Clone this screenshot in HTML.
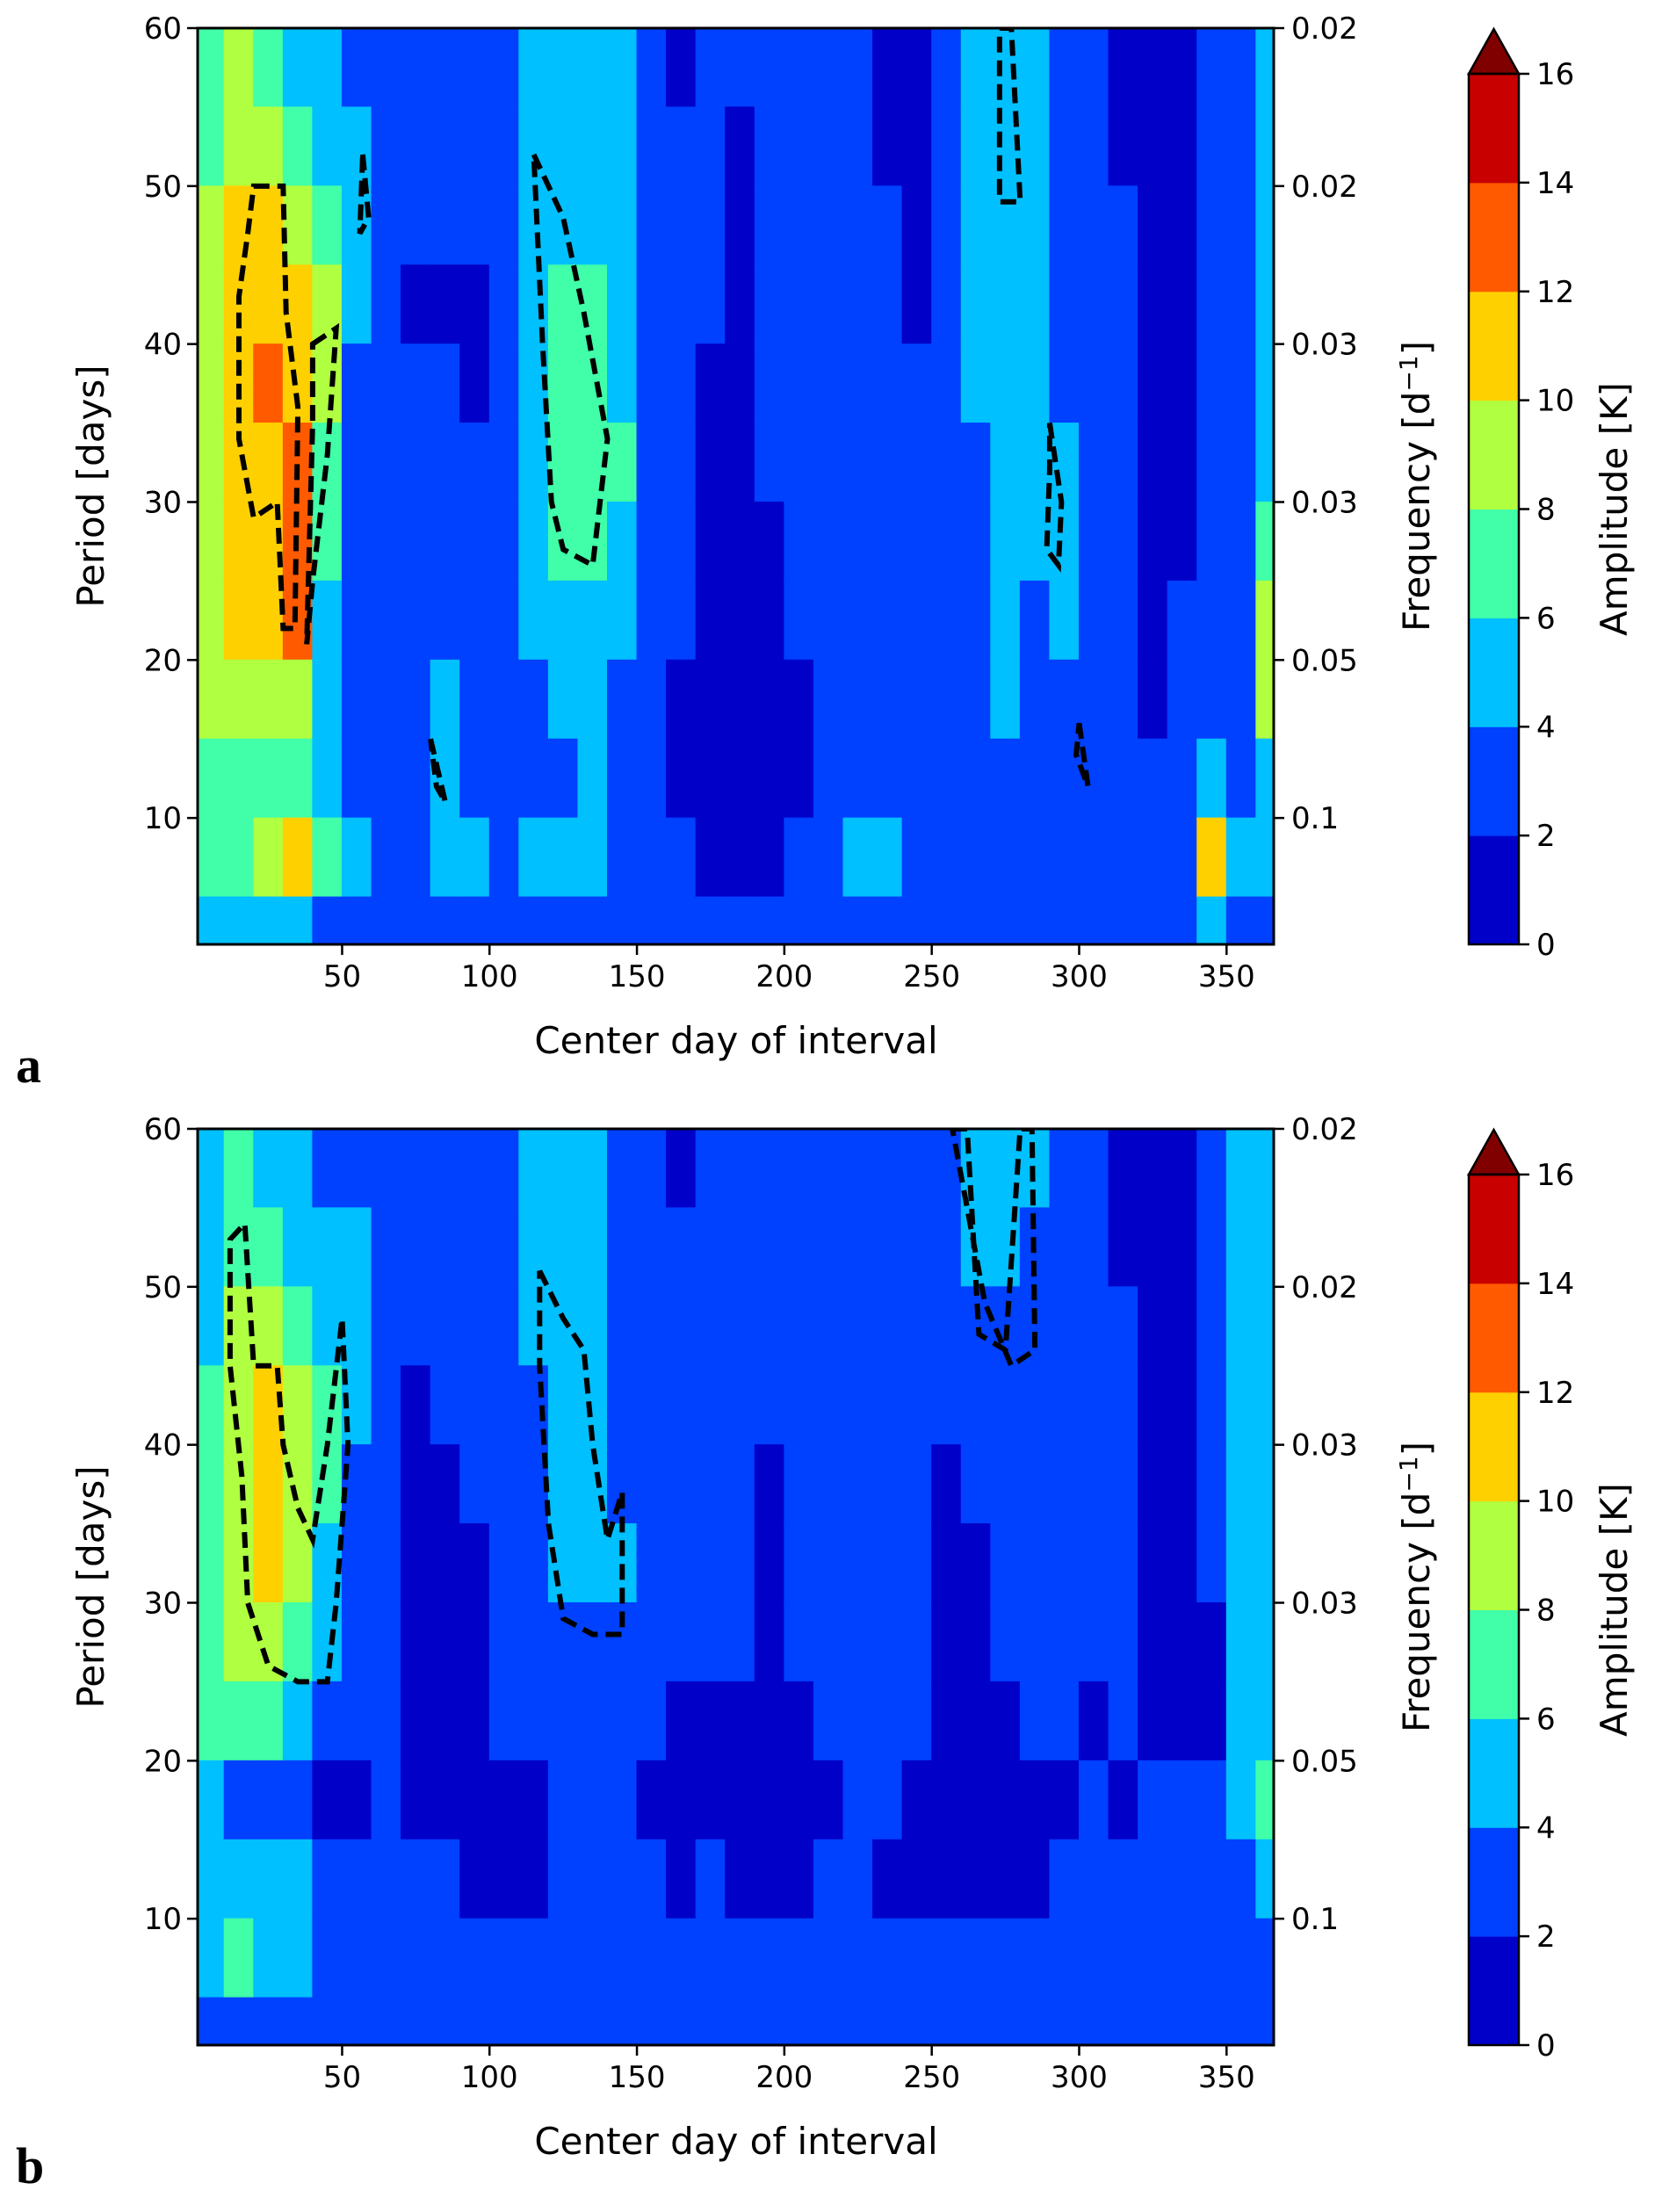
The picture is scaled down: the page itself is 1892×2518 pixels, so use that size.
<!DOCTYPE html>
<html><head><meta charset="utf-8"><style>
body{margin:0;background:#fff}
svg{display:block}
text{font-family:"DejaVu Sans","Liberation Sans",sans-serif;fill:#000}
</style></head><body>
<svg id="fig" width="1892" height="2518" viewBox="0 0 1892 2518" xmlns="http://www.w3.org/2000/svg"></svg>
<script>
const dayCenters=[5,15,25,35,45,55,65,75,85,95,105,115,125,135,145,155,165,175,185,195,205,215,225,235,245,255,265,275,285,295,305,315,325,335,345,355,365];
const periodRows=[[55,60],[50,55],[45,50],[40,45],[35,40],[30,35],[25,30],[20,25],[15,20],[10,15],[5,10],[2,5]];
const ampA=[
[7,7,9,9,9,9,9,9,8,7,7,5],[9,9,11,11,11,11,11,11,9,7,7,5],[7,9,11,11,13,11,11,11,9,7,9,5],[5,7,9,11,11,13,13,13,9,7,11,5],
[5,5,7,9,9,7,7,5,5,5,7,3],[3,5,5,5,3,3,3,3,3,3,5,3],[3,3,3,3,3,3,3,3,3,3,3,3],[3,3,3,1,3,3,3,3,3,3,3,3],
[3,3,3,1,3,3,3,3,5,5,5,3],[3,3,3,1,1,3,3,3,3,3,5,3],[3,3,3,3,3,3,3,3,3,3,3,3],[5,5,5,5,5,5,5,5,3,3,5,3],
[5,5,5,7,7,7,7,5,5,3,5,3],[5,5,5,7,7,7,7,5,5,5,5,3],[5,5,5,5,5,7,5,5,3,3,3,3],[3,3,3,3,3,3,3,3,3,3,3,3],
[1,3,3,3,3,3,3,3,1,1,3,3],[3,3,3,3,1,1,1,1,1,1,1,3],[3,1,1,1,1,1,1,1,1,1,1,3],[3,3,3,3,3,3,1,1,1,1,1,3],
[3,3,3,3,3,3,3,3,1,1,3,3],[3,3,3,3,3,3,3,3,3,3,3,3],[3,3,3,3,3,3,3,3,3,3,5,3],[1,1,3,3,3,3,3,3,3,3,5,3],
[1,1,1,1,3,3,3,3,3,3,3,3],[3,3,3,3,3,3,3,3,3,3,3,3],[5,5,5,5,5,3,3,3,3,3,3,3],[5,5,5,5,5,5,5,5,5,3,3,3],
[5,5,5,5,5,5,5,3,3,3,3,3],[3,3,3,3,3,5,5,5,3,3,3,3],[3,3,3,3,3,3,3,3,3,3,3,3],[1,1,3,3,3,3,3,3,3,3,3,3],
[1,1,1,1,1,1,1,1,1,3,3,3],[1,1,1,1,1,1,1,3,3,3,3,3],[3,3,3,3,3,3,3,3,3,5,11,5],[3,3,3,3,3,3,3,3,3,3,5,3],
[5,5,5,5,5,5,7,9,9,5,5,3]];
const ampB=[
[5,5,5,7,7,7,7,7,5,5,5,3],[7,7,9,9,9,9,9,7,3,5,7,3],[5,7,9,11,11,11,9,7,3,5,5,3],[5,5,7,9,9,9,7,5,3,5,5,3],
[3,5,5,7,7,5,5,3,1,3,3,3],[3,5,5,5,3,3,3,3,1,3,3,3],[3,3,3,3,3,3,3,3,3,3,3,3],[3,3,3,1,1,1,1,1,1,3,3,3],
[3,3,3,3,1,1,1,1,1,3,3,3],[3,3,3,3,3,1,1,1,1,1,3,3],[3,3,3,3,3,3,3,3,1,1,3,3],[5,5,5,3,3,3,3,3,1,1,3,3],
[5,5,5,5,5,5,3,3,3,3,3,3],[5,5,5,5,5,5,3,3,3,3,3,3],[3,3,3,3,3,5,3,3,3,3,3,3],[3,3,3,3,3,3,3,3,1,3,3,3],
[1,3,3,3,3,3,3,1,1,1,3,3],[3,3,3,3,3,3,3,1,1,3,3,3],[3,3,3,3,3,3,3,1,1,1,3,3],[3,3,3,3,1,1,1,1,1,1,3,3],
[3,3,3,3,3,3,3,1,1,1,3,3],[3,3,3,3,3,3,3,3,1,3,3,3],[3,3,3,3,3,3,3,3,3,3,3,3],[3,3,3,3,3,3,3,3,3,1,3,3],
[3,3,3,3,3,3,3,3,1,1,3,3],[3,3,3,3,1,1,1,1,1,1,3,3],[5,5,3,3,3,1,1,1,1,1,3,3],[5,5,3,3,3,3,3,1,1,1,3,3],
[5,3,3,3,3,3,3,3,1,1,3,3],[3,3,3,3,3,3,3,3,1,3,3,3],[3,3,3,3,3,3,3,1,3,3,3,3],[1,1,3,3,3,3,3,3,1,3,3,3],
[1,1,1,1,1,1,1,1,3,3,3,3],[1,1,1,1,1,1,1,1,3,3,3,3],[3,3,3,3,3,3,1,1,3,3,3,3],[5,5,5,5,5,5,5,5,5,3,3,3],
[5,5,5,5,5,5,5,5,7,5,3,3]];
const contoursA=[
[[20,50],[30,50],[31,42],[35,36],[34,22],[30,22],[28,30],[20,29],[15,34],[15,43],[18,47]],
[[40,40],[48,41],[45,33],[40,25],[38,21],[40,35]],
[[115,52],[125,48],[132,42],[138,36],[140,34],[135,26],[125,27],[121,30],[118,40]],
[[273,60],[277,60],[280,49],[273,49]],
[[290,35],[294,30],[293,26],[289,27],[290,32]],
[[57,52],[59,48],[56,47]],[[80,15],[85,11],[82,12]],[[300,16],[303,12],[299,14]]];
const contoursB=[
[[12,53],[17,54],[20,45],[28,45],[30,40],[35,36],[40,34],[45,40],[50,48],[52,40],[48,30],[45,25],[35,25],[25,26],[18,30],[16,38],[12,45]],
[[117,51],[125,48],[132,46],[135,40],[140,34],[145,37],[145,28],[135,28],[125,29],[120,35],[117,45]],
[[257,60],[262,60],[266,47],[275,46],[280,60],[284,60],[285,46],[277,45],[268,49]]];
const xTicks=[50,100,150,200,250,300,350];
const yTicks=[10,20,30,40,50,60];
const freqLabels=["0.1","0.05","0.03","0.03","0.02","0.02"];
const cbTicks=[0,2,4,6,8,10,12,14,16];
const levelColors=["#0000c8","#0040ff","#00c0ff","#40ffa8","#b0ff40","#ffd000","#ff5a00","#c80000","#800000"];

const NS="http://www.w3.org/2000/svg";
const svg=document.getElementById('fig');
function mk(tag,attrs,parent){const e=document.createElementNS(NS,tag);for(const k in attrs)e.setAttribute(k,attrs[k]);(parent||svg).appendChild(e);return e;}
const L=225,R=1450,H=1043;
function colorFor(v){return levelColors[Math.min(8,Math.max(0,Math.floor(v/2)))];}

function panel(off,amp,contours,letter){
  const T=32+off,B=T+H;
  const xs=d=>L+(d-1)/365*(R-L);
  const ys=p=>T+(60-p)/58*H;
  const g=mk('g',{});
  
  
  const clip=mk('clipPath',{id:'c'+letter},g);mk('rect',{x:L,y:T,width:R-L,height:H},clip);
  const cells=mk('g',{'clip-path':'url(#c'+letter+')'},g);
  dayCenters.forEach((d,i)=>{periodRows.forEach((pr,j)=>{
    const r=mk('rect',{x:xs(d-5)-0.5,y:ys(pr[1])-0.5,width:xs(d+5)-xs(d-5)+1,height:ys(pr[0])-ys(pr[1])+1,fill:colorFor(amp[i][j])},cells);
    
    
  });});
  contours.forEach(c=>{
    const p=mk('polygon',{points:c.map(q=>xs(q[0])+','+ys(q[1])).join(' '),fill:'none',stroke:'#000','stroke-width':6,'stroke-dasharray':'18,9'},cells);
    
    
  });
  mk('rect',{x:L,y:T,width:R-L,height:H,fill:'none',stroke:'#000','stroke-width':3},g);
  xTicks.forEach(d=>{
    mk('line',{x1:xs(d),x2:xs(d),y1:B,y2:B+12,stroke:'#000','stroke-width':2.5},g);
    const t=mk('text',{x:xs(d),y:B+48,'font-size':34,'text-anchor':'middle'},g);t.textContent=d;
    
  });
  yTicks.forEach((p,k)=>{
    mk('line',{x1:L-12,x2:L,y1:ys(p),y2:ys(p),stroke:'#000','stroke-width':2.5},g);
    const t=mk('text',{x:L-18,y:ys(p)+12,'font-size':34,'text-anchor':'end'},g);t.textContent=p;
    
    mk('line',{x1:R,x2:R+12,y1:ys(p),y2:ys(p),stroke:'#000','stroke-width':2.5},g);
    const f=mk('text',{x:R+20,y:ys(p)+12,'font-size':34},g);f.textContent=freqLabels[k];
    
  });
  const xl=mk('text',{x:838,y:B+124,'font-size':42,'text-anchor':'middle'},g);xl.textContent='Center day of interval';
  
  const yl=mk('text',{x:0,y:0,'font-size':42,'text-anchor':'middle',transform:`translate(118,${T+H/2}) rotate(-90)`},g);yl.textContent='Period [days]';
  
  const fl=mk('text',{x:0,y:0,'font-size':42,'text-anchor':'middle',transform:`translate(1627,${T+H/2}) rotate(-90)`},g);
  fl.innerHTML='Frequency [d<tspan dy="-14" font-size="28">−1</tspan><tspan dy="14">]</tspan>';
  
  const cb=mk('g',{},g);
  
  const cx0=1672,cx1=1729,cbB=1075+off,cbT=84+off,step=(cbB-cbT)/8;
  for(let k=0;k<8;k++)mk('rect',{x:cx0,y:cbB-(k+1)*step,width:cx1-cx0,height:step+0.5,fill:levelColors[k]},cb);
  mk('polygon',{points:`${cx0},${cbT} ${cx1},${cbT} ${(cx0+cx1)/2},${33+off}`,fill:levelColors[8],stroke:'#000','stroke-width':2.5},cb);
  mk('rect',{x:cx0,y:cbT,width:cx1-cx0,height:cbB-cbT,fill:'none',stroke:'#000','stroke-width':2.5},cb);
  cbTicks.forEach((v,k)=>{const y=cbB-k*step;
    mk('line',{x1:cx1,x2:cx1+12,y1:y,y2:y,stroke:'#000','stroke-width':2.5},cb);
    const t=mk('text',{x:cx1+20,y:y+12,'font-size':34},cb);t.textContent=v;
    });
  const al=mk('text',{x:0,y:0,'font-size':42,'text-anchor':'middle',transform:`translate(1852,${(cbT+cbB)/2}) rotate(-90)`},g);al.textContent='Amplitude [K]';
  
  const pl=mk('text',{x:18,y:1232+off,'font-size':58,'font-weight':'bold',style:'font-family:"Liberation Serif",serif'},g);pl.textContent=letter;
  
}
panel(0,ampA,contoursA,'a');
panel(1253,ampB,contoursB,'b');
</script>
</body></html>
